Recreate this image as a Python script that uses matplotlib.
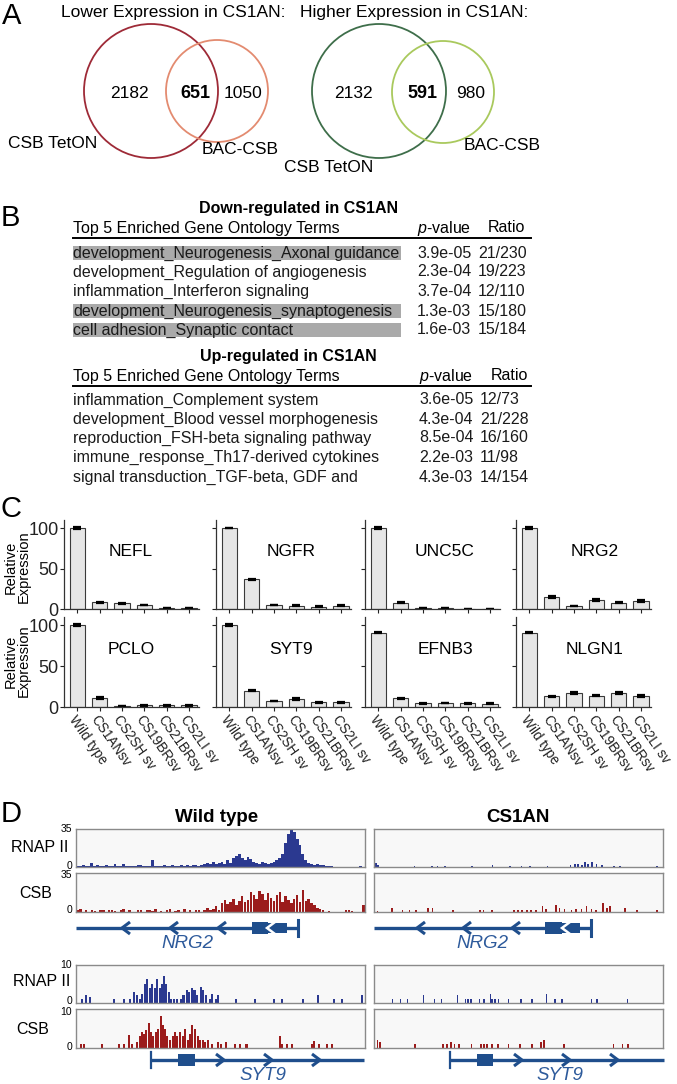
import numpy as np
import matplotlib
matplotlib.use('Agg')
from matplotlib import pyplot as plt
from matplotlib.patches import Circle, Rectangle

plt.rcParams['font.family'] = ['Liberation Sans', 'DejaVu Sans']
plt.rcParams['mathtext.fontset'] = 'custom'
plt.rcParams['mathtext.it'] = 'Liberation Sans:italic'
plt.rcParams['mathtext.rm'] = 'Liberation Sans'

W, H = 677, 1084

# ---------------- data ----------------
# A: Venn diagrams
venn_titles = ['Lower Expression in CS1AN:', 'Higher Expression in CS1AN:']
venn_lower = [2182, 651, 1050]
venn_higher = [2132, 591, 980]
set_names = ['CSB TetON', 'BAC-CSB']

# B: GO enrichment tables
down_terms = ['development_Neurogenesis_Axonal guidance',
              'development_Regulation of angiogenesis',
              'inflammation_Interferon signaling',
              'development_Neurogenesis_synaptogenesis',
              'cell adhesion_Synaptic contact']
down_pvals = ['3.9e-05', '2.3e-04', '3.7e-04', '1.3e-03', '1.6e-03']
down_ratios = ['21/230', '19/223', '12/110', '15/180', '15/184']
down_marked = [True, False, False, True, True]

up_terms = ['inflammation_Complement system',
            'development_Blood vessel morphogenesis',
            'reproduction_FSH-beta signaling pathway',
            'immune_response_Th17-derived cytokines',
            'signal transduction_TGF-beta, GDF and']
up_pvals = ['3.6e-05', '4.3e-04', '8.5e-04', '2.2e-03', '4.3e-03']
up_ratios = ['12/73', '21/228', '16/160', '11/98', '14/154']

# C: relative expression
samples = ['Wild type', 'CS1ANsv', 'CS2SH sv', 'CS19BRsv', 'CS21BRsv', 'CS2LI sv']
genes_c = ['NEFL', 'NGFR', 'UNC5C', 'NRG2', 'PCLO', 'SYT9', 'EFNB3', 'NLGN1']
nefl = [100, 8.5, 7, 5, 1.5, 1.5]
ngfr = [100, 36.5, 5, 4, 3, 4]
unc5c = [100, 8, 1, 1, 0, 0]
nrg2 = [100, 15, 4, 11, 8, 10]
pclo = [100, 11, 1.5, 2, 2, 2]
syt9 = [100, 20, 7.5, 10, 6, 6]
efnb3 = [91, 10.5, 4.5, 5, 4.5, 4]
nlgn1 = [91, 13, 17, 14, 17, 13.5]
nefl_err = [1.5, 0.5, 0.5, 0.5, 0.3, 0.3]
ngfr_err = [0.5, 0.3, 0.5, 0.4, 0.4, 0.4]
unc5c_err = [1, 0.8, 0.3, 0.3, 0, 0]
nrg2_err = [1, 0.8, 0.3, 0.8, 0.6, 0.8]
pclo_err = [1.5, 1, 0.3, 0.4, 0.4, 0.4]
syt9_err = [1.2, 1, 0.3, 1, 0.6, 0.6]
efnb3_err = [1, 0.3, 0.3, 0.3, 0.3, 0.3]
nlgn1_err = [0.8, 1, 1, 0.3, 1, 0.8]

# D: coverage tracks (position in % of window, height in reads)
nrg2_wt_pol2 = [0.5, 1, 1.5, 0.5, 1, 4, 1, 1.5, 0.5, 1,
                2, 0.5, 1, 3, 0.5, 1, 2.5, 0.5, 0.5, 1,
                1, 2, 1.5, 1, 0.5, 1, 6, 1, 0.5, 1,
                2, 1, 1, 2, 0.5, 1, 1.5, 1, 2, 1,
                1.5, 2, 1, 2, 3, 4, 3, 5, 3, 4,
                5, 3, 6, 4, 8, 10, 12, 8, 6, 9,
                7, 5, 4, 3, 5, 4, 3, 4, 5, 6,
                8, 12, 22, 30, 35, 32, 26, 20, 12, 6,
                4, 3, 2, 3, 2, 1.5, 1, 1, 0.5, 0,
                0, 0, 0, 0, 0, 0, 0, 0, 1, 0]
nrg2_wt_csb = [2, 3, 0, 1.5, 0, 1.5, 1, 0, 1.5, 1.5,
               0, 2, 1.5, 1, 0, 2, 2.5, 0, 1.5, 0,
               0, 1.5, 2, 0, 1.5, 2, 1, 2.5, 0, 1,
               0, 1.5, 2.5, 0, 1, 2, 0, 2.5, 0, 1.5,
               0, 2, 1.5, 0, 2, 4, 1.5, 3, 5, 2,
               8, 11, 7, 9, 12, 6, 10, 14, 9, 11,
               18, 15, 12, 19, 16, 11, 17, 13, 10, 15,
               18, 9, 14, 11, 8, 12, 15, 9, 20, 10,
               12, 8, 6, 4, 3, 1.5, 0, 1, 0, 0,
               0, 0, 0, 1.5, 1.5, 1, 0, 0, 0, 6]
nrg2_an_pol2_pos = [0.6, 1.5, 14, 20, 22, 24.5, 34, 41, 47, 51, 54, 60, 68,
                    69.5, 70.5, 72, 73, 74, 75.5, 77, 79, 83, 85, 98]
nrg2_an_pol2 = [3.5, 1.5, 0.8, 0.8, 1.2, 1, 0.8, 2, 0.8, 0.8, 0.5, 0.5, 1.5,
                2.5, 3, 2, 4.5, 3, 5, 2.5, 1.5, 1, 1, 0.8]
nrg2_an_csb_pos = [1.2, 6.2, 9.9, 12.3, 14.6, 18.7, 20.2, 27.4, 36.8, 37.9, 40.8,
                   48.4, 49.8, 51.3, 52.9, 54.3, 56, 58.3, 59.5, 63, 64.2, 65.9,
                   68.3, 70, 71.8, 73.5, 75.3, 76.7, 79.3, 80.5, 81.7, 86.9, 91, 98]
nrg2_an_csb = [1, 4, 1.5, 1.5, 1.5, 3.5, 4, 1.5, 2, 2, 1.5,
               1.5, 1.5, 2, 2, 2, 2, 5, 3, 6, 4, 2.5,
               2, 2.5, 3, 5, 3, 2, 8.5, 4, 5, 3.5, 2, 2]
syt9_wt_pol2_pos = [2, 3.5, 4.7, 13, 16.7, 18.6, 20.2, 21, 22, 23, 23.8, 24.7,
                    25.6, 26.4, 27.2, 28.1, 29, 29.9, 30.5, 31.3, 32.2, 33, 34,
                    35.1, 36.3, 37.2, 38.4, 39.2, 40, 41, 41.7, 43.3, 44, 45,
                    46.2, 47, 48.5, 49.3, 55.5, 61.9, 68.6, 71.2, 78.7, 83.7,
                    89.2, 92.1, 98.8]
syt9_wt_pol2 = [1, 2, 1.5, 1, 1, 1, 3, 2, 1, 2.5, 5, 6.4,
                4, 5, 4, 6.3, 4, 5, 7.1, 5, 3, 1, 1,
                1, 1, 2, 3.5, 3, 4, 3.5, 2, 4.3, 3.5, 2,
                1, 2.5, 1, 2, 1, 1, 1, 1, 1, 2,
                1, 1, 2.1]
syt9_wt_csb_pos = [1.7, 2.9, 9, 14.8, 16.5, 18.3, 19.4, 21.2, 22.1, 22.9, 23.5,
                   24.2, 25.2, 25.8, 26.7, 27.6, 28.4, 29.3, 30.1, 30.7, 31.6,
                   32.6, 33.4, 34.2, 35.1, 36, 36.9, 37.7, 38.6, 39.5, 40.3,
                   41.2, 42.1, 43, 43.8, 44.7, 45.6, 47, 49.1, 50.2, 52, 54.9,
                   56.6, 59, 70.6, 71.4, 72.9, 74.7, 81.6, 82.4, 84, 86.9, 88.6]
syt9_wt_csb = [1, 1, 1, 1, 1, 3.3, 1, 1.5, 3, 4, 3.5,
               4.5, 6.3, 4, 3, 4, 5, 8.2, 6, 5, 3,
               2, 3, 4, 3, 4, 3, 5, 2, 3.5, 6,
               5, 3, 2, 2, 1.5, 2, 1, 1.5, 1, 1.5, 1,
               1, 1, 3.1, 1, 1, 1, 1, 1.9, 1, 1, 1]
syt9_an_pol2_pos = [6.4, 9.1, 11.6, 17.1, 20.9, 23.3, 28.8, 31.7, 32.6, 33.5,
                    36.6, 38.1, 40.3, 40.9, 41.9, 43, 46.5, 50.8, 54.7, 59.7,
                    62.6, 65.1, 75.3, 77.1, 87.8]
syt9_an_pol2 = [1, 1, 1, 2, 1, 1, 2, 1, 1, 1,
                1, 1, 2.5, 1, 1, 1, 1, 1, 1, 2.5,
                1, 1, 1, 1, 1]
syt9_an_csb_pos = [1.2, 2.1, 14.3, 23.8, 25.3, 26.7, 27.9, 29.3, 33.7, 37, 38.1,
                   39, 40.9, 42.8, 46.5, 50.6, 54.7, 57.9, 58.7, 65.7, 82.9, 86, 87.8]
syt9_an_csb = [2, 1.5, 1, 1, 1, 1.5, 1, 1, 1, 1, 1,
               1, 1, 1, 1, 1, 1, 1.5, 2, 1, 1, 1, 1]

# ---------------- figure ----------------
fig = plt.figure(figsize=(6.77, 10.84), dpi=100)


def px_axes(x0, y0, x1, y1):
    """Axes placed with pixel coordinates measured from the top-left corner"""
    return fig.add_axes([x0 / W, 1 - y1 / H, (x1 - x0) / W, (y1 - y0) / H])


ax0 = px_axes(0, 0, W, H)
ax0.set_xlim(0, W)
ax0.set_ylim(H, 0)
ax0.axis('off')

for letter, (lx, ly) in zip('ABCD', [(12, 16), (10, 218), (11, 509), (11, 814)]):
    ax0.text(lx, ly, letter, fontsize=21, ha='center', va='center')

# ---- A
blue_txt = '#2d5a9b'
venn_specs = [
    (venn_titles[0], venn_lower, (151, 91, 67), (217, 91, 51), '#9e2a37', '#e38b70',
     (61, 12), [(129, 93), (195, 93), (243, 93)], (53, 143), (240, 150)),
    (venn_titles[1], venn_higher, (379, 91, 67), (443, 92, 51), '#3e6e4a', '#a9c95d',
     (300, 12), [(353, 93), (422, 93), (471, 93)], (329, 167), (502, 145)),
]
for title, counts, c1, c2, col1, col2, tpos, npos, lab1, lab2 in venn_specs:
    ax0.text(tpos[0], tpos[1], title, fontsize=12.5, ha='left', va='center')
    ax0.add_patch(Circle(c1[:2], c1[2], fill=False, ec=col1, lw=1.3))
    ax0.add_patch(Circle(c2[:2], c2[2], fill=False, ec=col2, lw=1.3))
    for k, (n, p) in enumerate(zip(counts, npos)):
        ax0.text(p[0], p[1], str(n), fontsize=13 if k == 1 else 12.5,
                 fontweight='bold' if k == 1 else 'normal', ha='center', va='center')
    ax0.text(lab1[0], lab1[1], set_names[0], fontsize=12.5, ha='center', va='center')
    ax0.text(lab2[0], lab2[1], set_names[1], fontsize=12.5, ha='center', va='center')

# ---- B
def go_table(title, title_xy, header_y, line_y, row_y, terms, pvals, ratios, px, rx, hx, marked=None):
    ax0.text(title_xy[0], title_xy[1], title, fontsize=11.5, fontweight='bold', ha='center', va='center')
    ax0.text(73, header_y, 'Top 5 Enriched Gene Ontology Terms', fontsize=11.5, va='center')
    ax0.text(px, header_y, '$p$-value', fontsize=11.5, va='center')
    ax0.text(hx, header_y, 'Ratio', fontsize=11.5, va='center')
    ax0.plot([73, 531], [line_y, line_y], color='black', lw=1.4)
    for i, (t, p, r) in enumerate(zip(terms, pvals, ratios)):
        y = row_y[i]
        if marked is not None and marked[i]:
            ax0.add_patch(Rectangle((73, y - 7), 328, 14, color='#aaaaaa', lw=0))
        ax0.text(73, y, t, fontsize=11.5, va='center', color='#1a1a1a')
        ax0.text(px, y, p, fontsize=11.5, va='center', color='#1a1a1a')
        ax0.text(rx, y, r, fontsize=11.5, va='center', color='#1a1a1a')


go_table('Down-regulated in CS1AN', (299, 209), 228, 238, [253, 272, 291, 311, 330],
         down_terms, down_pvals, down_ratios, 417, 478, 488, down_marked)
go_table('Up-regulated in CS1AN', (288, 357), 376, 386, [400, 419, 438, 457, 477],
         up_terms, up_pvals, up_ratios, 419, 480, 491)

# ---- C
expr = [nefl, ngfr, unc5c, nrg2, pclo, syt9, efnb3, nlgn1]
errs = [nefl_err, ngfr_err, unc5c_err, nrg2_err, pclo_err, syt9_err, efnb3_err, nlgn1_err]
col_left = [64, 216, 365, 516]
rows = [(520, 609), (617, 707)]
name_x = [131, 291, 445, 595]
name_y = [552, 650]
for i, (g, vals, e) in enumerate(zip(genes_c, expr, errs)):
    r, c = divmod(i, 4)
    ax = px_axes(col_left[c], rows[r][0], col_left[c] + 135, rows[r][1])
    ax.patch.set_visible(False)
    ax.bar(range(len(samples)), vals, width=0.68, color='#e6e6e6', edgecolor='#3a3a3a', lw=0.8,
           yerr=e, error_kw=dict(ecolor='black', elinewidth=1.2, capsize=3, capthick=1.6))
    ax.set_xlim(-0.6, 5.45)
    ax.set_ylim(0, 110)
    ax.spines['top'].set_visible(False)
    ax.spines['right'].set_visible(False)
    for s in ['left', 'bottom']:
        ax.spines[s].set_color('#333333')
        ax.spines[s].set_linewidth(0.9)
    ax.set_yticks([0, 50, 100])
    ax.set_xticks(range(len(samples)))
    ax.tick_params(direction='out', length=3, width=0.8, labelsize=13, pad=1, colors='#222222')
    if c > 0:
        ax.set_yticklabels([])
    if r == 0:
        ax.set_xticklabels([])
    else:
        ax.set_xticklabels(samples, rotation=-55, ha='left', va='top',
                           rotation_mode='anchor', fontsize=9.8)
    ax0.text(name_x[c], name_y[r], g, fontsize=12.5, ha='center', va='center')
for yl in [567, 661]:
    ax0.text(17, yl, 'Relative\nExpression', rotation=90, fontsize=10.5, ha='center',
             va='center', linespacing=0.9)

# ---- D
pol2_col = '#2b3990'
csb_col = '#9b1c1c'
gene_col = '#1f4e8c'
ax0.text(217, 817, 'Wild type', fontsize=13.5, fontweight='bold', ha='center', va='center')
ax0.text(518, 817, 'CS1AN', fontsize=13.5, fontweight='bold', ha='center', va='center')


def track(x0, y0, x1, y1, pos, h, color, ymax, width):
    ax = px_axes(x0, y0, x1, y1)
    ax.set_facecolor('#f8f8f8')
    ax.bar(pos, h, width=width, color=color, lw=0)
    ax.set_xlim(0, 100)
    ax.set_ylim(0, ymax)
    ax.set_xticks([])
    ax.set_yticks([])
    for s in ax.spines.values():
        s.set_color('#8a8a8a')
        s.set_linewidth(1)


dense_pos = np.arange(100) + 0.5
track(76, 829, 365, 867, dense_pos, nrg2_wt_pol2, pol2_col, 35, 1.0)
track(76, 873, 365, 912, dense_pos, nrg2_wt_csb, csb_col, 35, 0.85)
track(374, 829, 663, 867, nrg2_an_pol2_pos, nrg2_an_pol2, pol2_col, 35, 0.6)
track(374, 873, 663, 912, nrg2_an_csb_pos, nrg2_an_csb, csb_col, 35, 0.6)
track(76, 965, 365, 1003, syt9_wt_pol2_pos, syt9_wt_pol2, pol2_col, 10, 0.7)
track(76, 1009, 365, 1048, syt9_wt_csb_pos, syt9_wt_csb, csb_col, 10, 0.7)
track(374, 965, 663, 1003, syt9_an_pol2_pos, syt9_an_pol2, pol2_col, 10, 0.5)
track(374, 1009, 663, 1048, syt9_an_csb_pos, syt9_an_csb, csb_col, 10, 0.6)

for lbl, (lx, ly), ytop, ybot, ymax in [('RNAP II', (40, 847), 829, 866, '35'),
                                         ('CSB', (36, 893), 875, 910, '35'),
                                         ('RNAP II', (42, 981), 965, 1001, '10'),
                                         ('CSB', (33, 1030), 1012, 1047, '10')]:
    ax0.text(lx, ly, lbl, fontsize=11.5, ha='center', va='center')
    ax0.text(72, ytop, ymax, fontsize=7.5, ha='right', va='center')
    ax0.text(72, ybot, '0', fontsize=7.5, ha='right', va='center')


def chevron(x, y, d, color, lw=2.2):
    ax0.plot([x - d * 8, x, x - d * 8], [y - 6, y, y + 6], color=color, lw=lw,
             solid_capstyle='butt', solid_joinstyle='miter')


def nrg2_model(x0, x1, tips, b1, b2, notch, y=928):
    ax0.plot([x0, x1], [y, y], color=gene_col, lw=2.4, solid_capstyle='butt')
    ax0.plot([x1, x1], [y - 8, y + 8], color=gene_col, lw=2.2)
    for t in tips:
        chevron(t, y, -1, gene_col)
    ax0.add_patch(Rectangle((b1[0], y - 6), b1[1] - b1[0], 12, color=gene_col, lw=0))
    ax0.add_patch(Rectangle((b2[0], y - 5), b2[1] - b2[0], 10, color=gene_col, lw=0))
    chevron(notch, y, -1, 'white', lw=1.8)


def syt9_model(x0, x1, tips, b1, y=1060):
    ax0.plot([x0, x1], [y, y], color=gene_col, lw=2.4, solid_capstyle='butt')
    ax0.plot([x0, x0], [y - 8, y + 8], color=gene_col, lw=1.6)
    for t in tips:
        chevron(t, y, 1, gene_col)
    ax0.add_patch(Rectangle((b1[0], y - 6), b1[1] - b1[0], 12, color=gene_col, lw=0))


nrg2_model(76, 298, [122, 170, 218], (252, 268), (268, 287), 267)
nrg2_model(374, 591, [417, 463, 512], (545, 562), (562, 580), 562)
syt9_model(151, 364, [224, 272, 320], (178, 195))
syt9_model(450, 664, [522, 570, 618], (477, 493))
for gx, gy, gname in [(187, 943, 'NRG2'), (482, 943, 'NRG2'), (263, 1076, 'SYT9'), (560, 1076, 'SYT9')]:
    ax0.text(gx, gy, gname, fontsize=13.5, style='italic', color=blue_txt, ha='center', va='center')

fig.savefig('out.png', dpi=100)
